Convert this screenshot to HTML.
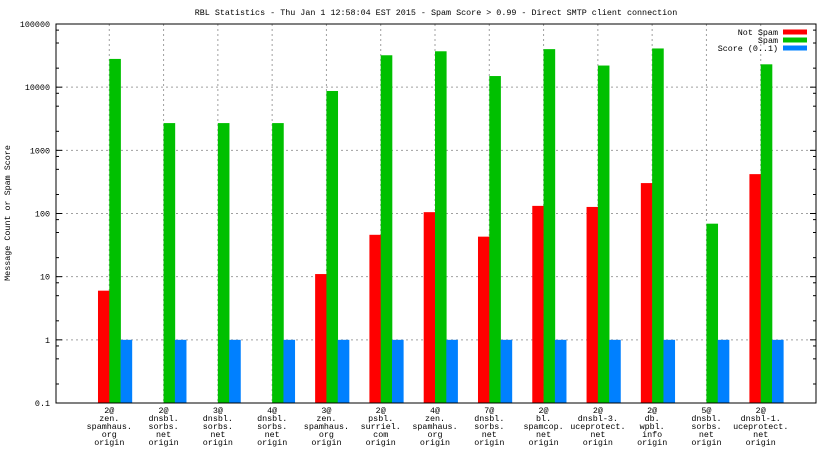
<!DOCTYPE html>
<html><head><meta charset="utf-8"><style>
html,body{margin:0;padding:0;background:#fff;}
svg{display:block;font-family:"Liberation Mono",monospace;}
</style></head><body>
<svg id="chart" width="832" height="468" viewBox="0 0 832 468" xmlns="http://www.w3.org/2000/svg">
<text x="436" y="15" font-size="8.4" text-anchor="middle">RBL Statistics - Thu Jan  1 12:58:04 EST 2015 - Spam Score &gt; 0.99 - Direct SMTP client connection</text>
<text transform="translate(10,213) rotate(-90)" font-size="8.4" text-anchor="middle">Message Count or Spam Score</text>
<g id="grid"></g><g id="bars"></g><g id="axes"></g>
</svg>
<script>
const categories = [
 ["2@","zen.","spamhaus.","org","origin"],
 ["2@","dnsbl.","sorbs.","net","origin"],
 ["3@","dnsbl.","sorbs.","net","origin"],
 ["4@","dnsbl.","sorbs.","net","origin"],
 ["3@","zen.","spamhaus.","org","origin"],
 ["2@","psbl.","surriel.","com","origin"],
 ["4@","zen.","spamhaus.","org","origin"],
 ["7@","dnsbl.","sorbs.","net","origin"],
 ["2@","bl.","spamcop.","net","origin"],
 ["2@","dnsbl-3.","uceprotect.","net","origin"],
 ["2@","db.","wpbl.","info","origin"],
 ["5@","dnsbl.","sorbs.","net","origin"],
 ["2@","dnsbl-1.","uceprotect.","net","origin"]
];
const notSpam = [6,0,0,0,11,46,105,43,132,127,303,0,420];
const spam = [28000,2700,2700,2700,8700,32000,37000,15000,40000,22000,41000,69,23000];
const score = [1,1,1,1,1,1,1,1,1,1,1,1,1];
const yTicks = [0.1,1,10,100,1000,10000,100000];
const yTickLabels = ["0.1","1","10","100","1000","10000","100000"];
const seriesNames = ["Not Spam","Spam","Score (0..1)"];
const seriesColors = ["#ff0000","#00c000","#0080ff"];

const NS="http://www.w3.org/2000/svg";
const L=56,R=816,T=24,B=403;
const yMin=-1,yMax=5;
const FS=8.4;
function y(v){return B-(Math.log10(v)-yMin)/(yMax-yMin)*(B-T);}
function xc(i){return L+(i+1)*(R-L)/(categories.length+1)-1;}
const bw=11.3;
function mk(tag,attrs,parent){const e=document.createElementNS(NS,tag);for(const k in attrs)e.setAttribute(k,attrs[k]);parent.appendChild(e);return e;}
const grid=document.getElementById('grid'),bars=document.getElementById('bars'),axes=document.getElementById('axes');

yTicks.forEach((v,k)=>{
  const yy=y(v);
  if(k>0&&k<yTicks.length-1){const g=mk('line',{x1:L,x2:R,y1:yy,y2:yy,stroke:'#a0a0a0','stroke-dasharray':'2,3','stroke-width':1},grid);
  
  }
  mk('line',{x1:L,x2:L+6,y1:yy,y2:yy,stroke:'#000'},axes);
  mk('line',{x1:R-6,x2:R,y1:yy,y2:yy,stroke:'#000'},axes);
  const t=mk('text',{x:L-6,y:yy+3,'font-size':FS,'text-anchor':'end'},axes);
  t.textContent=yTickLabels[k];
  
  
  if(k<yTicks.length-1){[2,5,8].forEach(m=>{const my=y(v*m);
    mk('line',{x1:L,x2:L+3,y1:my,y2:my,stroke:'#000'},axes);
    mk('line',{x1:R-3,x2:R,y1:my,y2:my,stroke:'#000'},axes);});}
});

categories.forEach((c,i)=>{
  const x=xc(i);
  const g=mk('line',{x1:x,x2:x,y1:T,y2:B,stroke:'#a0a0a0','stroke-dasharray':'2,3'},grid);
  
  
  [notSpam,spam,score].forEach((s,j)=>{
    const v=s[i]; if(!v||v<=0.1) return;
    const r=mk('rect',{x:x-bw+j*bw,y:y(v),width:bw+0.3,height:B-y(v),fill:seriesColors[j]},bars);
    
    
  });
  const t=mk('text',{x:x,y:413,'font-size':FS,'text-anchor':'middle'},axes);
  
  
  c.forEach((line,n)=>{const ts=mk('tspan',{x:x,dy:n?8:0},t);ts.textContent=line;});
});

const border=mk('rect',{x:L,y:T,width:R-L,height:B-T,fill:'none',stroke:'#000'},axes);



seriesNames.forEach((n,j)=>{
  const yy=32+j*8;
  const t=mk('text',{x:778,y:yy+3,'font-size':FS,'text-anchor':'end'},axes);
  t.textContent=n;
  
  
  const r=mk('rect',{x:783,y:yy-2.5,width:24,height:5,fill:seriesColors[j]},axes);
  
  
});
</script>
</body></html>
